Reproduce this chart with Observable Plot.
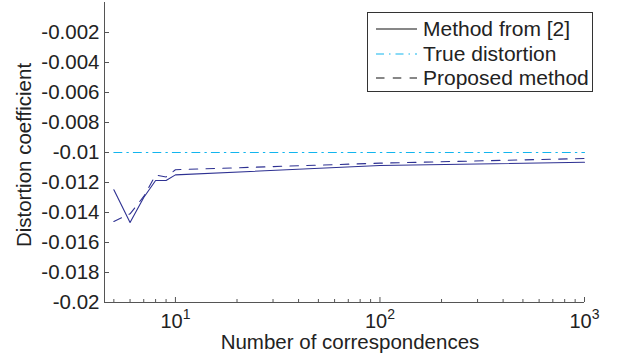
<!DOCTYPE html>
<html><head><meta charset="utf-8">
<script src="https://cdn.jsdelivr.net/npm/d3@7"></script>
<script src="https://cdn.jsdelivr.net/npm/@observablehq/plot@0.6"></script>
<style>
body{margin:0;background:#fff;}
#wrap{position:relative;width:623px;height:358px;font-family:"Liberation Sans",Arial,sans-serif;color:#222;}
#legend{position:absolute;left:367px;top:12px;width:224px;height:78px;border:1px solid #333;background:#fff;}
.row{position:absolute;left:0;height:24px;display:flex;align-items:center;font-size:21px;}
.row svg{margin-left:8px;margin-right:6px;}
</style></head><body><div id="wrap"></div>
<script>
// ---- data ----
const nCorr = [5, 6, 7, 8, 9, 10, 100, 1000];
const methodFrom2 = [-0.01249, -0.01467, -0.0130, -0.01187, -0.01187, -0.01149, -0.01087, -0.01065];
const proposed = [-0.0146, -0.01409, -0.01293, -0.0115, -0.01163, -0.01115, -0.01071, -0.0104];
const trueDistortion = [-0.01, -0.01, -0.01, -0.01, -0.01, -0.01, -0.01, -0.01];
const seriesNames = ["Method from [2]", "True distortion", "Proposed method"];
const yTicks = [-0.02, -0.018, -0.016, -0.014, -0.012, -0.01, -0.008, -0.006, -0.004, -0.002];
const xMajor = [10, 100, 1000];
const xMajorExp = ["1", "2", "3"];
const xMinor = [5, 6, 7, 8, 9, 20, 30, 40, 50, 60, 70, 80, 90, 200, 300, 400, 500, 600, 700, 800, 900];
const xLabel = "Number of correspondences";
const yLabel = "Distortion coefficient";

const navy = "#2e3192", cyan = "#12b5ee", axisCol = "#555";
const styles = [
  {stroke: navy, dash: null},
  {stroke: cyan, dash: "8,5,1.5,5"},
  {stroke: navy, dash: "8.5,8.3"}
];
const seriesVals = [methodFrom2, trueDistortion, proposed];

const W = 623, H = 358, mL = 104, mR = 39, mT = 2, mB = 56;
const innerW = W - mL - mR, innerH = H - mT - mB;

const lineMarks = seriesVals.map((vals, i) => Plot.line(nCorr.map((n, j) => ({n, v: vals[j]})), {
  x: "n", y: "v", stroke: styles[i].stroke, strokeWidth: 1.1, strokeDasharray: styles[i].dash
}));

const plot = Plot.plot({
  width: W, height: H, marginLeft: mL, marginRight: mR, marginTop: mT, marginBottom: mB,
  style: {fontFamily: '"Liberation Sans", Arial, sans-serif', fontSize: "20.5px", color: "#222", background: "white", overflow: "visible"},
  x: {type: "log", domain: [4.5, 1000]},
  y: {domain: [-0.02, 0]},
  marks: [
    Plot.ruleY([-0.02], {stroke: axisCol}),
    Plot.ruleX([4.5], {stroke: axisCol}),
    Plot.ruleX(xMajor, {stroke: axisCol, insetTop: innerH - 5}),
    Plot.ruleX(xMinor, {stroke: axisCol, insetTop: innerH - 3}),
    Plot.ruleY(yTicks, {stroke: axisCol, insetRight: innerW - 5}),
    Plot.axisY({ticks: yTicks, tickSize: 0, tickPadding: 5, tickFormat: d => String(d), label: null, fill: "#222", fontSize: 20.5}),
    Plot.axisX({ticks: xMajor, tickSize: 0, tickPadding: 11, tickFormat: (d, i) => "10^" + xMajorExp[xMajor.indexOf(d)], label: null, fontSize: 20, fill: "#222"}),
    ...lineMarks
  ]
});

const wrap = document.getElementById("wrap");
wrap.appendChild(plot);
const svg = d3.select(plot);
// superscript exponents on x tick labels
svg.selectAll('g[aria-label="x-axis tick label"] text').each(function() {
  const t = d3.select(this);
  const parts = t.text().split("^");
  if (parts.length === 2) {
    t.text(parts[0]);
    t.append("tspan").attr("font-size", 14).attr("dy", -9).text(parts[1]);
  }
});
svg.append("text").attr("x", 350).attr("y", 349).attr("text-anchor", "middle")
  .attr("font-size", 20.5).attr("fill", "#222").text(xLabel);
svg.append("text").attr("transform", "translate(31,155) rotate(-90)").attr("text-anchor", "middle")
  .attr("font-size", 20.5).attr("fill", "#222").text(yLabel);

// legend
const leg = document.createElement("div");
leg.id = "legend";
seriesNames.forEach((name, i) => {
  const row = document.createElement("div");
  row.className = "row";
  row.style.top = (4 + i * 24.5) + "px";
  const s = d3.create("svg").attr("width", 41).attr("height", 10);
  s.append("line").attr("x1", 0).attr("x2", 41).attr("y1", 5).attr("y2", 5)
    .attr("stroke", i === 1 ? cyan : "#111").attr("stroke-width", 1.1)
    .attr("stroke-dasharray", styles[i].dash);
  row.appendChild(s.node());
  const t = document.createElement("span");
  t.textContent = name;
  row.appendChild(t);
  leg.appendChild(row);
});
wrap.appendChild(leg);
</script></body></html>
